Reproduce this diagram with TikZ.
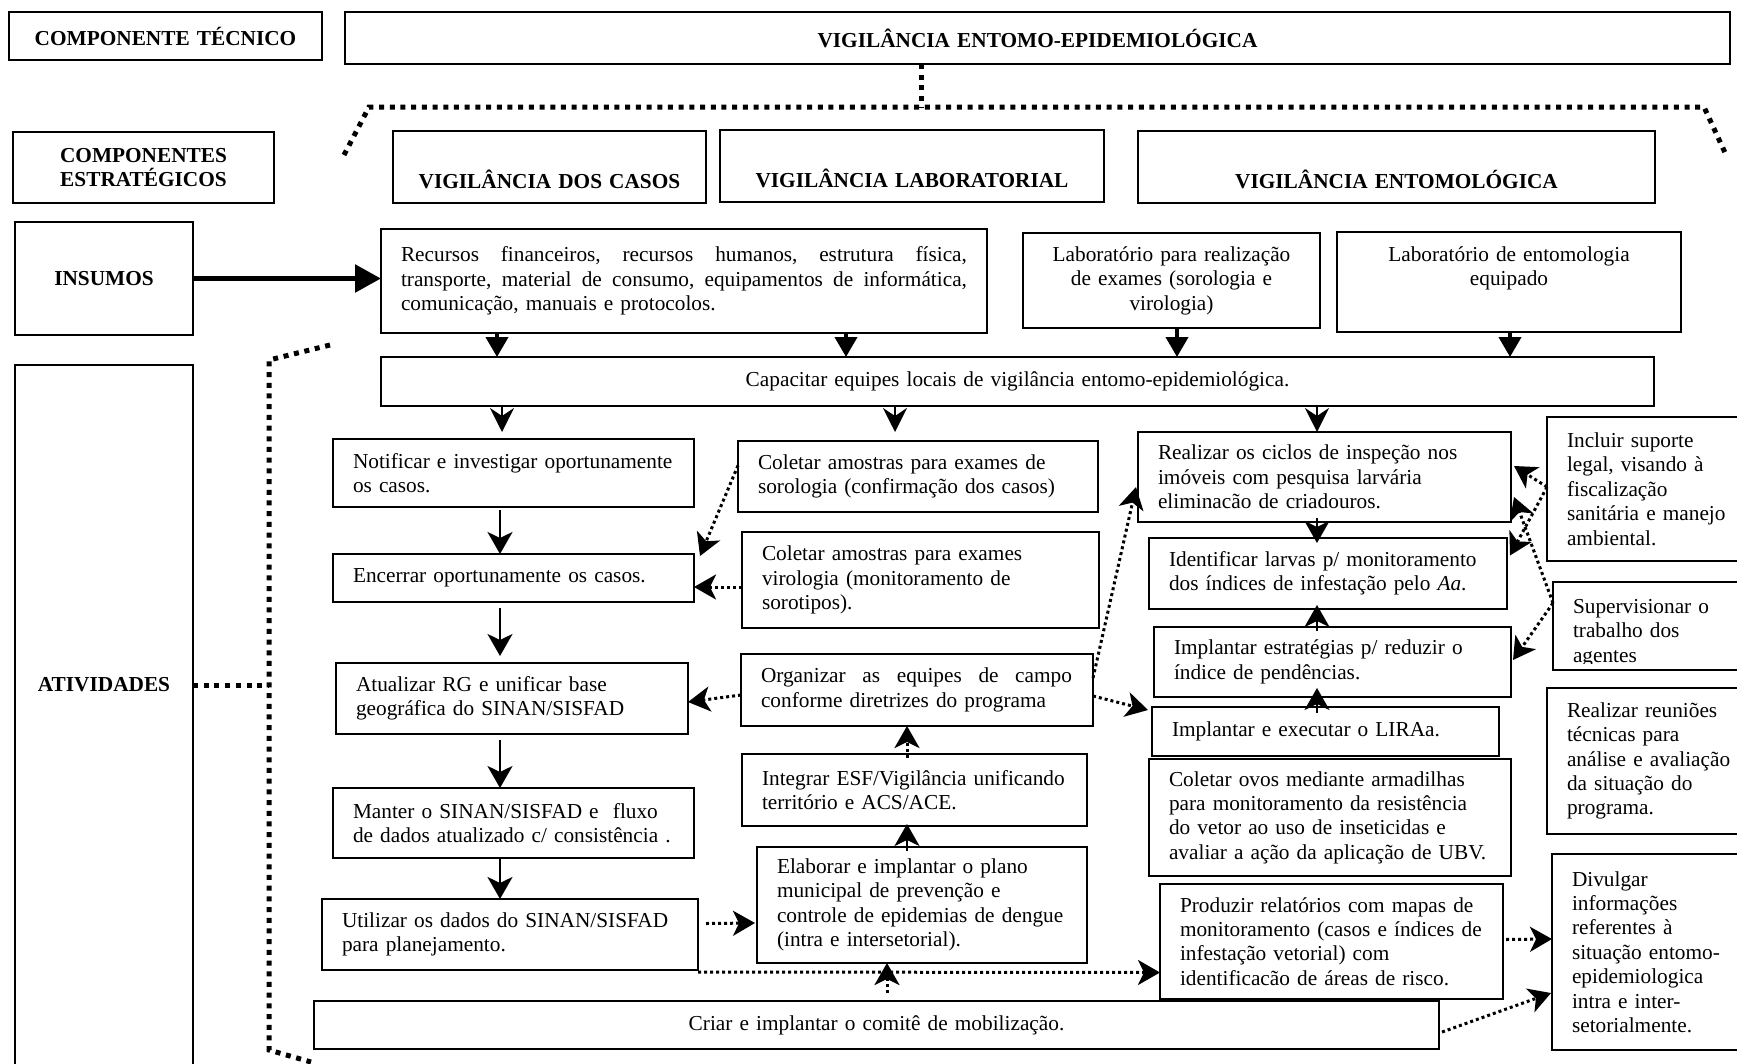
\documentclass[tikz,border=0pt]{standalone}
\usepackage{fontspec}
\setmainfont{Liberation Serif}
\usetikzlibrary{arrows.meta}
\newcommand{\fonte}{\fontsize{21.3}{24.4}\selectfont}
\tikzset{
  caixa/.style={draw, line width=1.6pt, rectangle, anchor=north west, inner xsep=20pt,
    inner ysep=0pt, outer sep=0pt, align=left, font=\fonte},
  centro/.style={caixa, align=center},
  titulo/.style={caixa, align=center, font=\fonte\bfseries},
  setainsumo/.style={line width=5.5pt, -{Triangle[length=26pt,width=27pt]}},
  setagrossa/.style={line width=4pt, -{Triangle[length=20pt,width=22pt]}},
  setacap/.style={line width=2pt, -{Stealth[length=24pt,width=24pt,inset=8pt]}},
  seta/.style={line width=2.5pt, -{Stealth[length=22pt,width=25pt,inset=6pt]}},
  pont/.style={seta, line width=3pt, dash pattern=on 3pt off 3pt},
  chave/.style={line width=5pt, dash pattern=on 5pt off 5.7pt},
}
\begin{document}
\begin{tikzpicture}[x=1pt, y=-1pt]
  \useasboundingbox (0,0) rectangle (1737,1063);
  % titles
  \node[titulo, text width=273pt, minimum height=48pt] (tec) at (9,12) {COMPONENTE TÉCNICO};
  \node[titulo, text width=1345pt, minimum height=52pt] (vig) at (345,12) {VIGILÂNCIA ENTOMO-EPIDEMIOLÓGICA};
  \node[titulo, text width=221pt, minimum height=71pt] (estr) at (13,132) {COMPONENTES\\ESTRATÉGICOS};
  \node[titulo, text width=273pt, minimum height=72pt] (casos) at (393,131) {\strut\\VIGILÂNCIA DOS CASOS};
  \node[titulo, text width=344pt, minimum height=72pt] (lab) at (720,130) {\strut\\VIGILÂNCIA LABORATORIAL};
  \node[titulo, text width=477pt, minimum height=72pt] (ento) at (1138,131) {\strut\\VIGILÂNCIA ENTOMOLÓGICA};
  \node[titulo, text width=138pt, minimum height=113pt] (ins) at (15,222) {INSUMOS};
  \node[caixa, text width=138pt, minimum height=710pt] (atvbox) at (15,365) {};
  \node[font=\fonte\bfseries] (atv) at (104,685) {ATIVIDADES};
  % insumos
  \node[caixa, text width=566pt, minimum height=104pt] (rec) at (381,229)
    {\makebox[566pt][l]{Recursos\hfill financeiros,\hfill recursos\hfill humanos,\hfill estrutura\hfill física,}\\
     \makebox[566pt][l]{transporte,\hfill material\hfill de\hfill consumo,\hfill equipamentos\hfill de\hfill informática,}\\
     comunicação, manuais e protocolos.};
  \node[centro, text width=257pt, minimum height=95pt] (labex) at (1023,233)
    {Laboratório para realização\\de exames (sorologia e\\virologia)};
  \node[centro, text width=304pt, minimum height=100pt] (labent) at (1337,232)
    {Laboratório de entomologia\\equipado\\\strut};
  \node[centro, text width=1233pt, minimum height=49pt] (cap) at (381,357)
    {Capacitar equipes locais de vigilância entomo-epidemiológica.};
  % vigilancia dos casos
  \node[caixa, text width=321pt, minimum height=68pt] (notif) at (333,439)
    {Notificar e investigar oportunamente\\os casos.};
  \node[caixa, text width=321pt, minimum height=48pt] (encer) at (333,554)
    {Encerrar oportunamente os casos.};
  \node[caixa, text width=312pt, minimum height=71pt] (atual) at (336,663)
    {Atualizar RG e unificar base\\geográfica do SINAN/SISFAD};
  \node[caixa, text width=321pt, minimum height=70pt] (mant) at (333,788)
    {Manter o SINAN/SISFAD e~ fluxo\\de dados atualizado c/ consistência .};
  \node[caixa, text width=336pt, minimum height=71pt] (util) at (322,899)
    {Utilizar os dados do SINAN/SISFAD\\para planejamento.};
  \node[centro, text width=1085pt, minimum height=48pt] (criar) at (314,1001)
    {Criar e implantar o comitê de mobilização.};
  % vigilancia laboratorial
  \node[caixa, text width=320pt, minimum height=71pt] (soro) at (738,441)
    {Coletar amostras para exames de\\sorologia (confirmação dos casos)};
  \node[caixa, text width=317pt, minimum height=96pt] (viro) at (742,532)
    {Coletar amostras para exames\\virologia (monitoramento de\\sorotipos).};
  \node[caixa, text width=312pt, minimum height=72pt] (org) at (741,654)
    {\makebox[311pt][l]{Organizar\hfill as\hfill equipes\hfill de\hfill campo}\\conforme diretrizes do programa};
  \node[caixa, text width=305pt, minimum height=72pt] (integ) at (742,754)
    {Integrar ESF/Vigilância unificando\\território e ACS/ACE.};
  \node[caixa, text width=290pt, minimum height=116pt] (elab) at (757,847)
    {Elaborar e implantar o plano\\municipal de prevenção e\\controle de epidemias de dengue\\(intra e intersetorial).};
  % vigilancia entomologica
  \node[caixa, text width=333pt, minimum height=90pt] (real) at (1138,432)
    {Realizar os ciclos de inspeção nos\\imóveis com pesquisa larvária\\eliminacão de criadouros.};
  \node[caixa, text width=318pt, minimum height=71pt] (ident) at (1149,538)
    {Identificar larvas p/ monitoramento\\dos índices de infestação pelo \textit{Aa}.};
  \node[caixa, text width=317pt, minimum height=70pt] (estrat) at (1154,627)
    {Implantar estratégias p/ reduzir o\\índice de pendências.};
  \node[caixa, text width=307pt, minimum height=49pt] (lira) at (1152,707)
    {Implantar e executar o LIRAa.};
  \node[caixa, text width=322pt, minimum height=117pt] (ovos) at (1149,759)
    {Coletar ovos mediante armadilhas\\para monitoramento da resistência\\do vetor ao uso de inseticidas e\\avaliar a ação da aplicação de UBV.};
  \node[caixa, text width=303pt, minimum height=115pt] (prod) at (1160,884)
    {Produzir relatórios com mapas de\\monitoramento (casos e índices de\\infestação vetorial) com\\identificacão de áreas de risco.};
  % right column
  \node[caixa, text width=170pt, minimum height=144pt] (incl) at (1547,417)
    {Incluir suporte\\legal, visando à\\fiscalização\\sanitária e manejo\\ambiental.};
  \node[caixa, text width=164pt, minimum height=88pt] (sup) at (1553,582) {};
  \begin{scope}
    \clip (1540,575) rectangle (1740,663);
    \node[caixa, draw=none, text width=164pt, minimum height=88pt] (suptxt) at (1553,589)
      {Supervisionar o\\trabalho dos\\agentes};
  \end{scope}
  \node[caixa, text width=170pt, minimum height=146pt] (reun) at (1547,688)
    {Realizar reuniões\\técnicas para\\análise e avaliação\\da situação do\\programa.};
  \node[caixa, text width=165pt, minimum height=196pt] (divul) at (1552,854)
    {Divulgar\\informações\\referentes à\\situação entomo-\\epidemiologica\\intra e inter-\\setorialmente.};
  % columns
  \coordinate (xa) at (497,0);
  \coordinate (xb) at (846,0);
  \coordinate (xc) at (1177,0);
  \coordinate (xd) at (1510,0);
  \coordinate (xe) at (502,0);
  \coordinate (xf) at (895,0);
  \coordinate (xg) at (1317,0);
  \coordinate (xh) at (500,0);
  \coordinate (xi) at (907,0);
  \coordinate (xj) at (887,0);
  % brackets
  \coordinate (ch0) at (921.5,107);
  \coordinate (ch1) at (344,155);
  \coordinate (ch2) at (369,107);
  \coordinate (ch3) at (1704,107);
  \coordinate (ch4) at (1727,157);
  \coordinate (ce1) at (330,345);
  \coordinate (ce2) at (269,360);
  \coordinate (ce3) at (269,1050);
  \coordinate (ce4) at (311,1062);
  \draw[chave] (ch0 |- vig.south) -- (ch0);
  \draw[chave] (ch1) -- (ch2) -- (ch3) -- (ch4);
  \draw[chave] (ce1) -- (ce2) -- (ce3) -- (ce4);
  \draw[chave] (atvbox.east |- atv) -- (ce2 |- atv);
  % solid arrows
  \draw[setainsumo] (ins.east) -- (ins.east -| rec.west);
  \draw[setagrossa] (xa |- rec.south) -- (xa |- cap.north);
  \draw[setagrossa] (xb |- rec.south) -- (xb |- cap.north);
  \draw[setagrossa] (xc |- labex.south) -- (xc |- cap.north);
  \draw[setagrossa] (xd |- labent.south) -- (xd |- cap.north);
  \draw[setacap, shorten >=7pt] (xe |- cap.south) -- (xe |- notif.north);
  \draw[setacap, shorten >=9pt] (xf |- cap.south) -- (xf |- soro.north);
  \draw[setacap] (xg |- cap.south) -- (xg |- real.north);
  \draw[seta, shorten <=3pt] (xh |- notif.south) -- (xh |- encer.north);
  \draw[seta, shorten <=6pt, shorten >=7pt] (xh |- encer.south) -- (xh |- atual.north);
  \draw[seta, shorten <=6pt] (xh |- atual.south) -- (xh |- mant.north);
  \draw[seta] (xh |- mant.south) -- (xh |- util.north);
  \draw[seta, shorten <=-4pt, shorten >=-2pt] (xi |- elab.north) -- (xi |- integ.south);
  \draw[seta, shorten <=-4pt, shorten >=-5pt] (xg |- real.south) -- (xg |- ident.north);
  \draw[seta, shorten <=-4pt, shorten >=-4pt] (xg |- estrat.north) -- (xg |- ident.south);
  \draw[seta, shorten <=-6pt, shorten >=-9pt] (xg |- lira.north) -- (xg |- estrat.south);
  % dotted arrows
  \draw[pont, shorten <=-4pt] (xi |- integ.north) -- (xi |- org.south);
  \draw[pont, shorten <=8pt] (xj |- criar.north) -- (xj |- elab.south);
  \draw[pont] ([yshift=11pt]soro.west) -- ([xshift=6pt,yshift=-2pt]encer.north east);
  \draw[pont] ([yshift=-7pt]viro.west) -- ([yshift=-9pt]encer.east);
  \draw[pont] ([yshift=-5pt]org.west) -- ([yshift=-3.5pt]atual.east);
  \draw[pont] ([yshift=-24pt]org.north east) -- ([xshift=-2pt,yshift=-10pt]real.west);
  \draw[pont] ([yshift=-42pt]org.north east) -- ([xshift=-4pt,yshift=-3pt]lira.north west);
  \draw[pont] ([xshift=8pt,yshift=11pt]util.east) -- ([xshift=-2pt,yshift=-18pt]elab.west);
  \draw[pont] ([yshift=-2pt]util.south east) -- ([yshift=-31pt]prod.west);
  \draw[pont] ([yshift=2pt]incl.west) -- ([xshift=3pt,yshift=11pt]real.east);
  \draw[pont] ([yshift=2pt]incl.west) -- ([xshift=3pt,yshift=18pt]ident.east);
  \draw[pont] ([yshift=23pt]sup.west) -- ([xshift=3pt,yshift=-20pt]real.east);
  \draw[pont] ([yshift=23pt]sup.west) -- ([xshift=2pt,yshift=2pt]estrat.east);
  \draw[pont] ([xshift=3pt,yshift=2pt]prod.east) -- ([yshift=13pt]divul.west);
  \draw[pont] ([xshift=3pt,yshift=-7pt]criar.east) -- ([xshift=-1pt,yshift=-41pt]divul.west);
\end{tikzpicture}
\end{document}
